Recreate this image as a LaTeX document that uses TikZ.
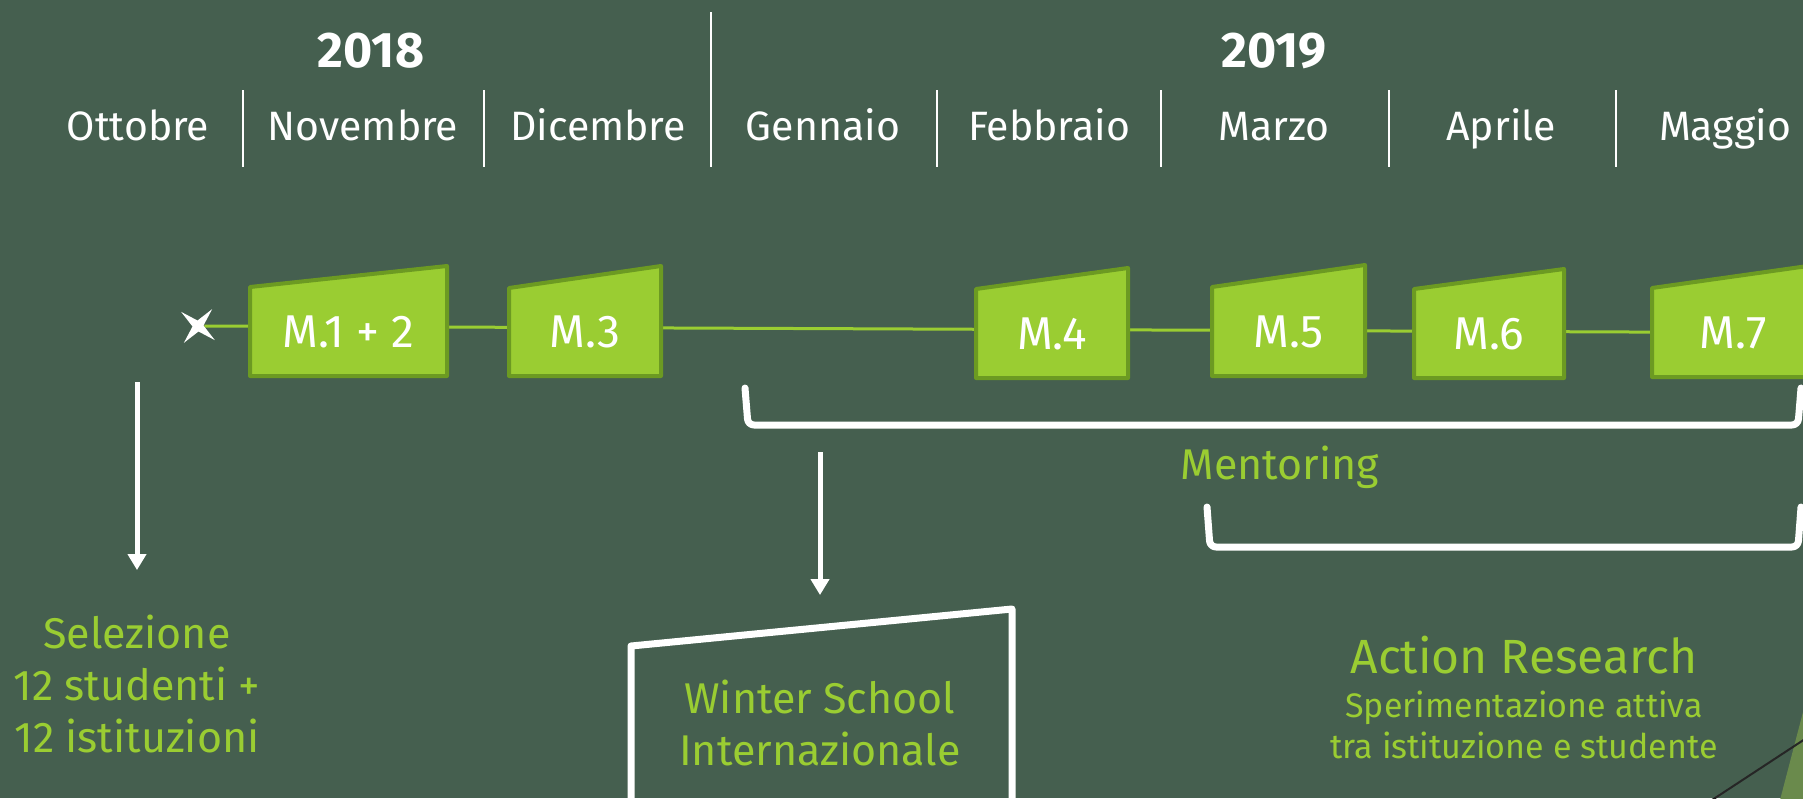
\documentclass[tikz,border=0pt]{standalone}
\usepackage{fontspec}
\setmainfont{Fira Sans}
\usetikzlibrary{arrows.meta,shapes.geometric,backgrounds}

\definecolor{bggreen}{HTML}{455F4F}
\definecolor{leaf}{HTML}{9ACD32}
\definecolor{leafdark}{HTML}{6C9A22}
\definecolor{olive}{HTML}{6A8A4C}

% one milestone: name, left, right, top-left y, top-right y, bottom y, label
\newcommand\milestone[7]{%
  \draw[mbox] (#2,#6) -- (#2,#4) -- (#3,#5) -- (#3,#6) -- cycle;
  \node[mlabel] (#1) at ({(#2+#3)/2},#6-29) {#7};
}

\begin{document}
\begin{tikzpicture}[x=0.5pt,y=-0.5pt,
    month/.style={text=white,font=\fontsize{20.5}{25}\selectfont,anchor=base,inner sep=0pt},
    year/.style={text=white,font=\fontsize{25}{30}\selectfont\bfseries,anchor=base,inner sep=0pt},
    sep/.style={draw=white,line width=1pt},
    mbox/.style={fill=leaf,draw=leafdark,line width=2pt,line join=round},
    mlabel/.style={text=white,font=\fontsize{23}{27}\selectfont,anchor=base,inner sep=1pt},
    timeline/.style={draw=leaf,line width=1.5pt},
    flow/.style={draw=white,line width=2.5pt,-{Triangle[width=9pt,length=8pt]}},
    brace/.style={draw=white,line width=3.5pt,line cap=round,line join=round,rounded corners=3pt},
    note/.style={text=leaf,font=\fontsize{21.5}{26}\selectfont,align=center,anchor=base,inner sep=0pt},
    wsbox/.style={draw=white,line width=3.5pt,line join=round}]
    \useasboundingbox (0,0) rectangle (1803,798);

    % header
    \node[year] (y2018) at (371,67) {2018};
    \node[year] (y2019) at (1274,67) {2019};
    \draw[sep] (711,12) -- (711,167);
    \foreach \x in {243,484,937,1161,1389,1616}
      \draw[sep] (\x,90) -- (\x,167);
    \foreach \mname/\mx [count=\i] in {Ottobre/138,Novembre/363,Dicembre/598,Gennaio/823,
        Febbraio/1049,Marzo/1274,Aprile/1501,Maggio/1725}
      \node[month] (month\i) at (\mx,140) {\mname};

    % timeline
    \node[star,star points=4,star point ratio=4,fill=white,inner sep=0pt,
          minimum size=22pt,rotate=50] (start) at (198,326) {};
    \milestone{m12}{250}{447}{287}{266}{376}{M.1 + 2}
    \milestone{m3}{509}{661}{288}{266}{376}{M.3}
    \milestone{m4}{976}{1128}{289}{268}{378}{M.4}
    \milestone{m5}{1212}{1365}{287}{265}{376}{M.5}
    \milestone{m6}{1414}{1564}{289}{269}{378}{M.6}
    \milestone{m7}{1652}{1815}{288}{265}{377}{M.7}

    % brackets
    \draw[brace] (745,388) -- (748,425) -- (1798,425) -- (1801,388);
    \node[note] (mentoring) at (1280,479) {Mentoring};
    \draw[brace] (1207,507) -- (1210,547) -- (1798,547) -- (1801,507);

    % selection
    \coordinate (sel-src) at (137,382);
    \node[note] (sel) at (137,752) {Selezione\\12 studenti +\\12 istituzioni};
    \draw[flow,shorten >=22pt] (sel-src) -- (sel);

    % winter school
    \draw[wsbox] (631,812) -- (631,646) -- (1012,609) -- (1012,812);
    \coordinate (ws-src) at (820,452);
    \node[note] (ws) at (820,765) {Winter School\\Internazionale};
    \draw[flow,shorten >=42pt] (ws-src) -- (ws);

    % action research
    \node[note,font=\fontsize{24}{28}\selectfont] (ar) at (1524,673) {Action Research};
    \node[note,font=\fontsize{17}{20.5}\selectfont] (ar-sub) at (1524,758)
      {Sperimentazione attiva\\tra istituzione e studente};

    % corner
    \fill[olive] (1780,800) -- (1803,712) -- (1803,800) -- cycle;
    \draw[black!85,line width=1pt] (1712,800) -- (1805,739);

    \begin{scope}[on background layer]
      \fill[bggreen] (0,0) rectangle (1803,798);
      \draw[timeline] (start) -- (m7);
    \end{scope}
\end{tikzpicture}
\end{document}
